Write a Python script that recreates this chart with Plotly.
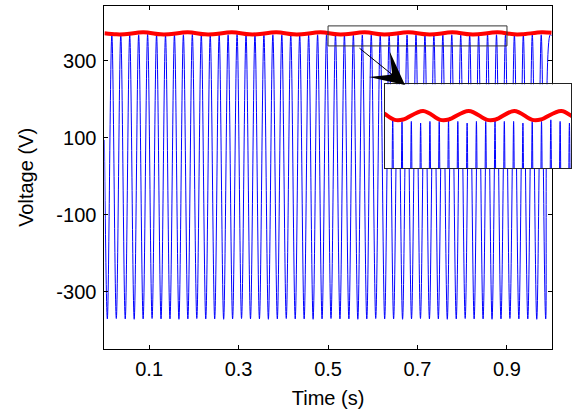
import numpy as np
import plotly.graph_objects as go

FONT = "Liberation Sans, Arial, sans-serif"

# ---------------- data ----------------
x_tick_vals = [0.1, 0.3, 0.5, 0.7, 0.9]
x_tick_text = ["0.1", "0.3", "0.5", "0.7", "0.9"]
y_tick_vals = [-300, -100, 100, 300]
y_tick_text = ["-300", "-100", "100", "300"]

# Blue AC voltage (50 Hz): extrema
blue_period_s = 0.02
blue_first_trough_s = 0.0066
blue_start_v = 95.0    # value at t = 0 s
blue_end_v = 366.0     # value at t = 1 s
blue_peak_v = [368, 368, 367, 368, 369, 368, 367, 368, 368, 369,
               368, 367, 368, 368, 369, 368, 368, 367, 368, 368,
               369, 368, 367, 368, 368, 369, 368, 368, 367, 368,
               368, 369, 368, 367, 368, 368, 369, 368, 368, 367,
               368, 368, 369, 368, 367, 368, 368, 369, 368, 368]
blue_trough_v = [-370, -369, -370, -371, -370, -369, -370, -370, -371, -370,
                 -369, -370, -370, -371, -370, -369, -370, -370, -371, -370,
                 -369, -370, -370, -371, -370, -369, -370, -370, -371, -370,
                 -369, -370, -370, -371, -370, -369, -370, -370, -371, -370,
                 -369, -370, -370, -371, -370, -369, -370, -370, -371, -370]

# Red DC-link voltage with ~10 Hz ripple
red_t = [0.000, 0.027, 0.045, 0.087, 0.126, 0.144, 0.186, 0.225, 0.243, 0.285,
         0.324, 0.342, 0.384, 0.423, 0.441, 0.483, 0.521, 0.539, 0.582, 0.619,
         0.637, 0.680, 0.720, 0.738, 0.778, 0.817, 0.835, 0.879, 0.916, 0.934,
         0.978, 1.000]
red_v = [372.0, 369.0, 369.2, 374.5, 369.0, 369.2, 374.5, 369.0, 369.2, 374.5,
         369.0, 369.2, 374.5, 369.0, 369.2, 374.5, 369.0, 369.2, 374.5, 369.0,
         369.2, 374.5, 369.0, 369.2, 374.5, 369.0, 369.2, 374.5, 369.0, 369.2,
         374.5, 373.0]

# zoomed window
zoom_t = [0.5, 0.9]
zoom_v = [339, 391]

# ---------------- build blue polyline from extrema ----------------
n_ext = len(blue_peak_v) + len(blue_trough_v)
ext_t = blue_first_trough_s + np.arange(n_ext) * blue_period_s / 2
ext_v = np.empty(n_ext)
ext_v[0::2] = blue_trough_v
ext_v[1::2] = blue_peak_v
blue_t = np.concatenate([[0.0], ext_t, [1.0]])
blue_vals = np.concatenate([[blue_start_v], ext_v, [blue_end_v]])

fig = go.Figure()
for xa, ya in (("x", "y"), ("x2", "y2")):
    fig.add_trace(go.Scatter(x=blue_t, y=blue_vals, mode="lines",
                             line=dict(color="rgb(0,0,255)", width=1, shape="spline"),
                             xaxis=xa, yaxis=ya, hoverinfo="skip"))
    fig.add_trace(go.Scatter(x=red_t, y=red_v, mode="lines",
                             line=dict(color="rgb(255,0,0)", width=4, shape="spline"),
                             xaxis=xa, yaxis=ya, hoverinfo="skip"))

W, H = 573, 411
L, R, T, B = 104.4, 551.7, 5.5, 349.3

ax_common = dict(showline=True, linecolor="black", linewidth=1, mirror="ticks",
                 ticks="inside", ticklen=4, tickwidth=1, tickcolor="black",
                 showgrid=False, zeroline=False, automargin=False,
                 tickfont=dict(family=FONT, size=20, color="black"))

fig.update_layout(
    width=W, height=H, margin=dict(l=0, r=0, t=0, b=0),
    paper_bgcolor="white", plot_bgcolor="white", showlegend=False,
    xaxis=dict(domain=[L / W, R / W], range=[0, 1], tickvals=x_tick_vals,
               ticktext=x_tick_text, ticklabelstandoff=2,
               title=dict(text="Time (s)", font=dict(family=FONT, size=20, color="black"),
                          standoff=11),
               **ax_common),
    yaxis=dict(domain=[1 - B / H, 1 - T / H], range=[-449, 444], tickvals=y_tick_vals,
               ticktext=y_tick_text, ticklabelstandoff=3,
               title=dict(text="Voltage (V)", font=dict(family=FONT, size=20, color="black"),
                          standoff=17),
               **ax_common),
    xaxis2=dict(domain=[385 / W, 571 / W], range=zoom_t, showticklabels=False,
                ticks="", showline=True, mirror=True, linecolor="#222", linewidth=1,
                showgrid=False, zeroline=False, anchor="y2"),
    yaxis2=dict(domain=[1 - 168.3 / H, 1 - 84.3 / H], range=zoom_v, showticklabels=False,
                ticks="", showline=True, mirror=True, linecolor="#222", linewidth=1,
                showgrid=False, zeroline=False, anchor="x2"),
)

fig.add_shape(type="rect", xref="x", yref="y", x0=zoom_t[0], x1=zoom_t[1],
              y0=zoom_v[0], y1=zoom_v[1], line=dict(color="#333", width=1), layer="above")

fig.add_annotation(xref="paper", yref="paper", x=405 / W, y=1 - 85 / H,
                   ax=-47, ay=-38, text="", showarrow=True, arrowhead=3,
                   arrowsize=5.5, arrowwidth=1, arrowcolor="black")

fig.write_html("out.html")
